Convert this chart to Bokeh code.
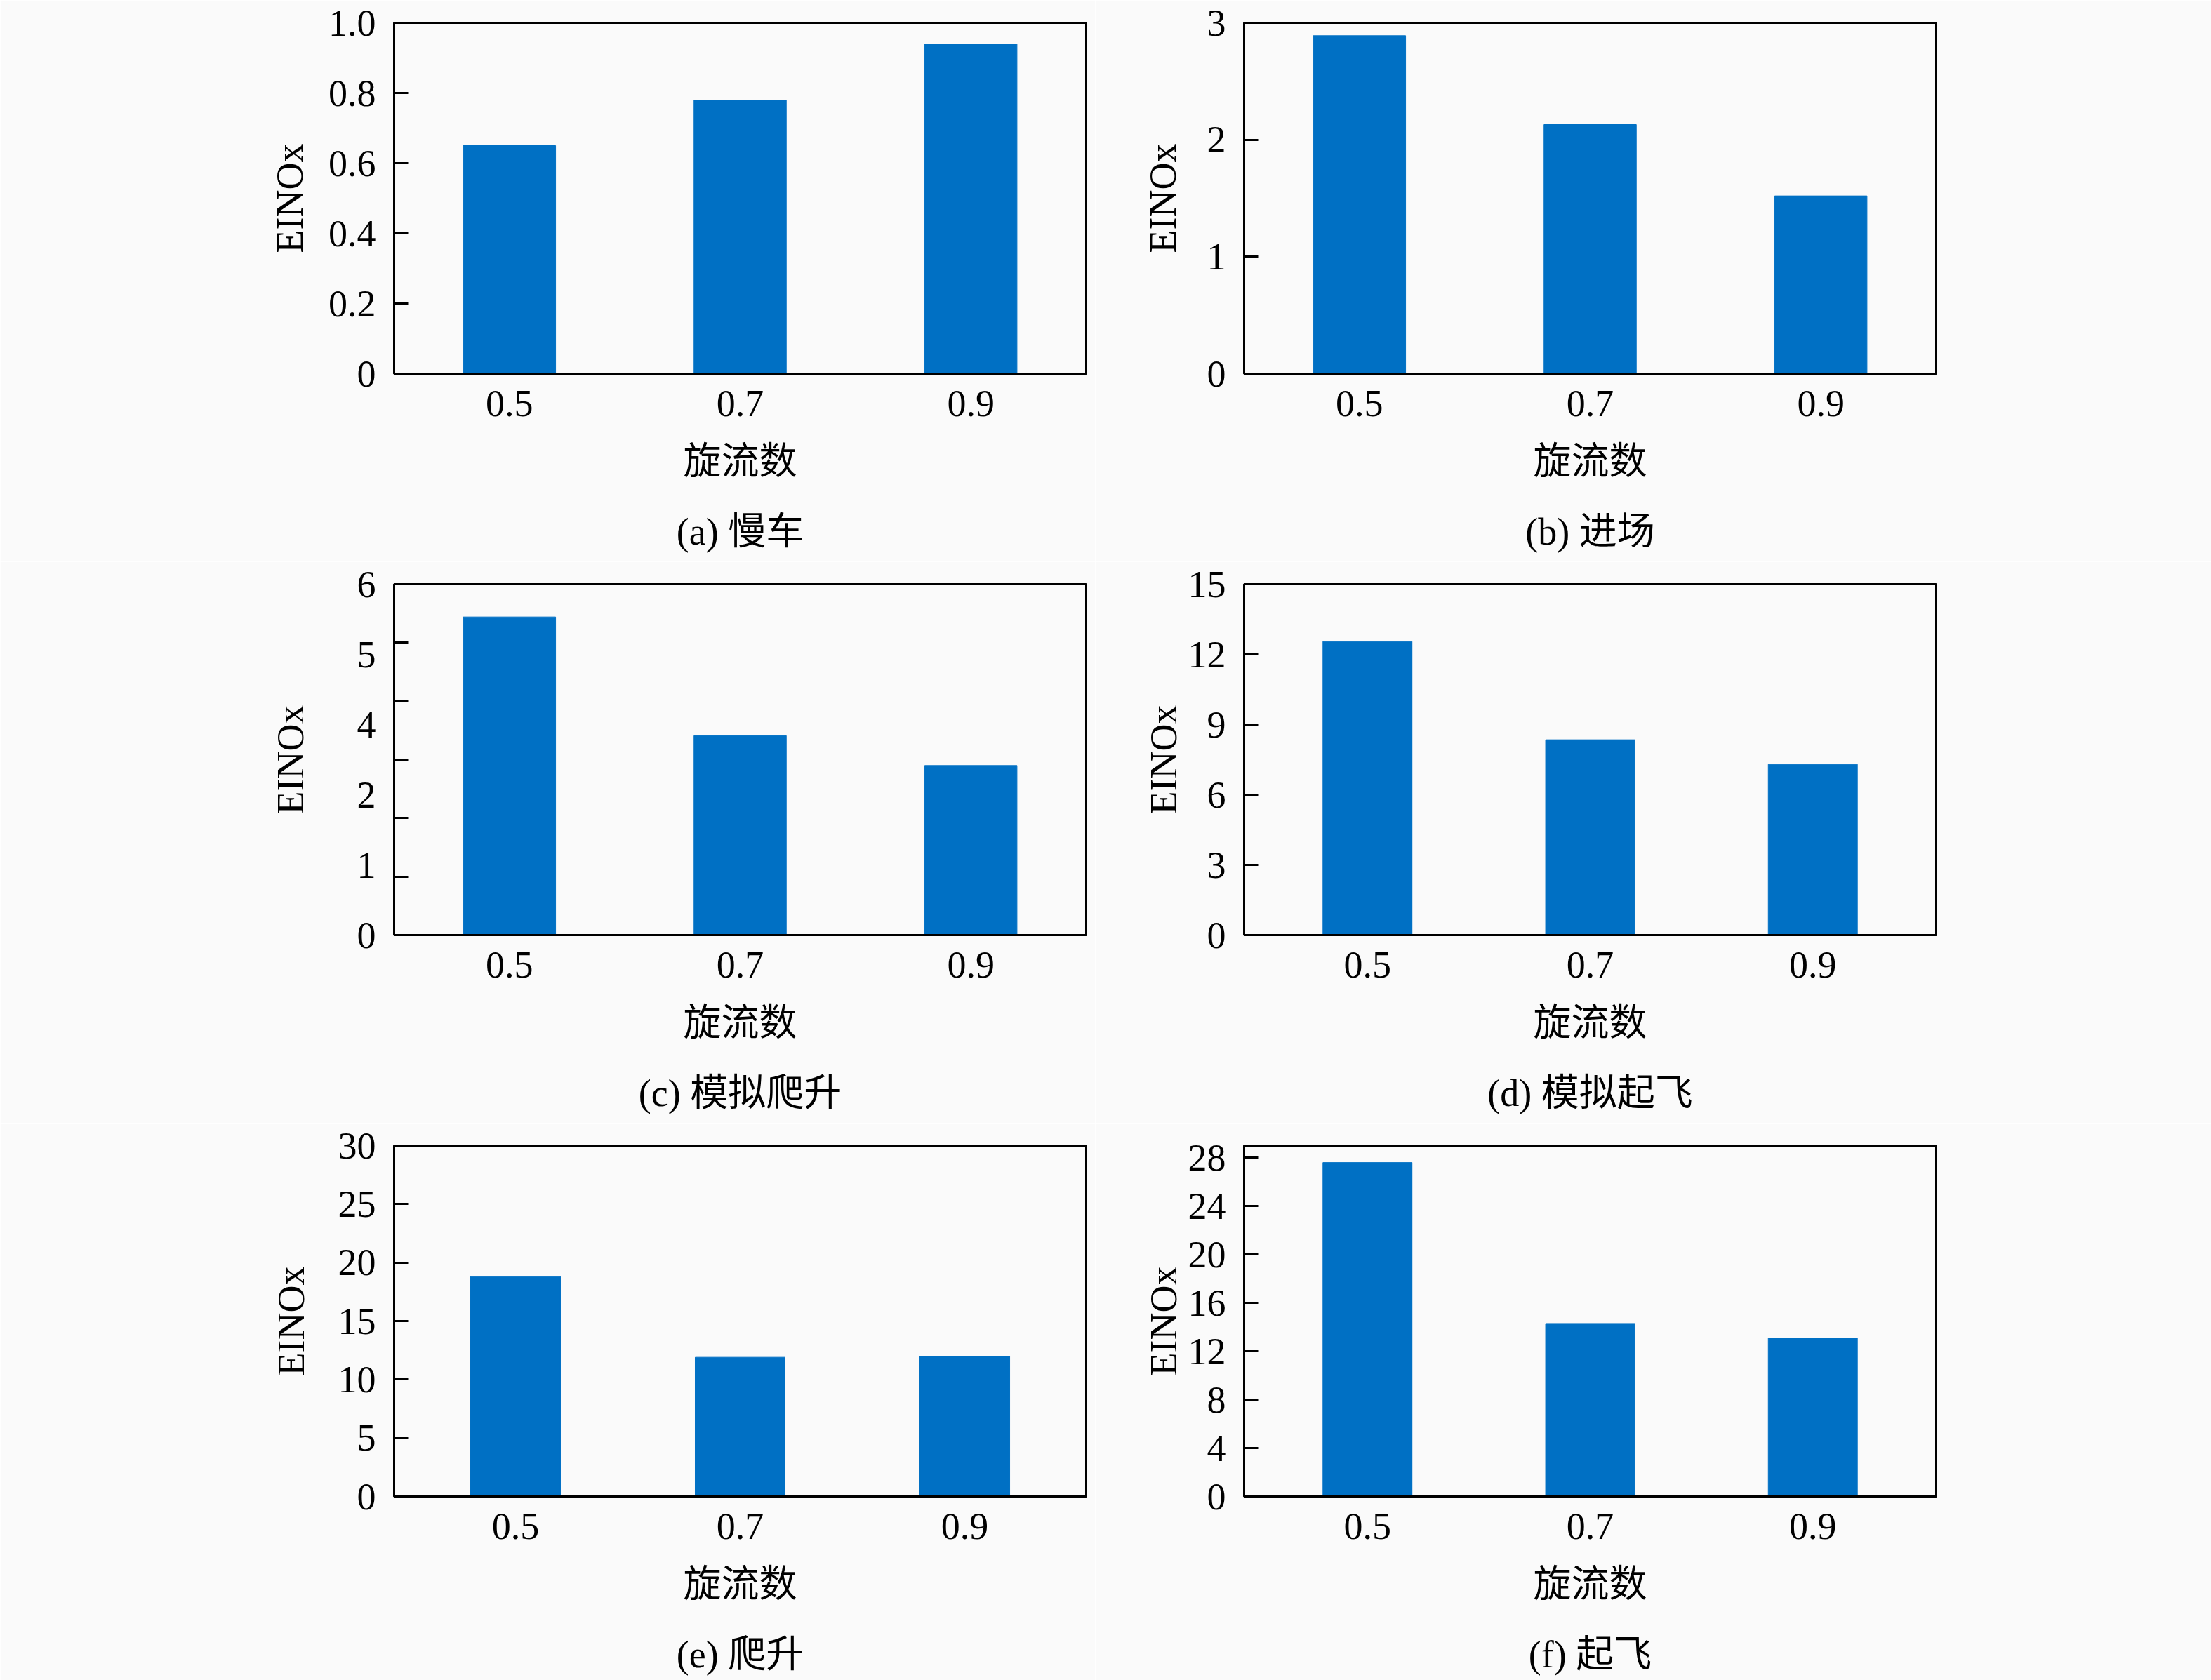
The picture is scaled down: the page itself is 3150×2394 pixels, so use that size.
from bokeh.plotting import figure
from bokeh.layouts import column, row
from bokeh.models import FactorRange, Range1d, FixedTicker, CategoricalAxis
from bokeh.embed import file_html
from bokeh.resources import INLINE

# ---------------- data ----------------
swirl = ["0.5", "0.7", "0.9"]

idle_vals = [0.65, 0.78, 0.94]          # (a) 慢车
approach_vals = [2.89, 2.13, 1.52]      # (b) 进场
sim_climb_vals = [5.44, 3.41, 2.90]     # (c) 模拟爬升
sim_takeoff_vals = [12.55, 8.35, 7.30]  # (d) 模拟起飞
climb_vals = [18.8, 11.9, 12.0]         # (e) 爬升
takeoff_vals = [27.6, 14.3, 13.1]       # (f) 起飞

captions = ["(a) 慢车", "(b) 进场", "(c) 模拟爬升", "(d) 模拟起飞", "(e) 爬升", "(f) 起飞"]
x_title = "旋流数"
y_title = "EINOx"

y_max = [1.0, 3, 6, 15, 30, 29]

ticks_a = [0, 0.2, 0.4, 0.6, 0.8, 1.0]
labels_a = ["0", "0.2", "0.4", "0.6", "0.8", "1.0"]
ticks_b = [0, 1, 2, 3]
labels_b = ["0", "1", "2", "3"]
# panel (c): labels in the original are spread evenly and skip "3"
ticks_c = [0, 1.2, 2.4, 3.6, 4.8, 6]
labels_c = ["0", "1", "2", "4", "5", "6"]
minor_c = [1, 2, 3, 4, 5]
ticks_d = [0, 3, 6, 9, 12, 15]
labels_d = ["0", "3", "6", "9", "12", "15"]
ticks_e = [0, 5, 10, 15, 20, 25, 30]
labels_e = ["0", "5", "10", "15", "20", "25", "30"]
ticks_f = [0, 4, 8, 12, 16, 20, 24, 28]
labels_f = ["0", "4", "8", "12", "16", "20", "24", "28"]

# ---------------- style ----------------
BAR = "#0070c4"
BG = "#fafafa"
FONT = "Liberation Serif, Noto Sans CJK SC"
FS = "54px"
TOP = 32
FRAME_W = 986
FRAME_H = 500
CAP_STANDOFF = 37


def style_text(a):
    a.major_label_text_font = FONT
    a.major_label_text_font_size = FS
    a.major_label_text_color = "black"
    a.axis_label_text_font = FONT
    a.axis_label_text_font_size = FS
    a.axis_label_text_font_style = "normal"
    a.axis_label_text_color = "black"


def panel(vals, caption, ymax, ticks, labels, minor, W, H, left_b, pad, ylab_off):
    p = figure(x_range=FactorRange(*swirl, range_padding=pad),
               y_range=Range1d(0, ymax),
               width=W, height=H, output_backend="svg", toolbar_location=None,
               min_border_left=left_b, min_border_right=W - left_b - FRAME_W,
               min_border_top=TOP, min_border_bottom=H - TOP - FRAME_H)
    p.vbar(x=swirl, top=vals, width=0.4, fill_color=BAR, line_color=BAR)
    p.background_fill_color = BG
    p.border_fill_color = BG
    p.outline_line_color = "black"
    p.outline_line_width = 3
    p.xgrid.visible = False
    p.ygrid.visible = False

    xa = p.xaxis[0]
    xa.axis_label = x_title
    xa.major_tick_in = 0
    xa.major_tick_out = 0
    xa.axis_line_width = 3
    xa.major_label_standoff = 24
    xa.axis_label_standoff = 32
    style_text(xa)

    ya = p.yaxis[0]
    ya.axis_label = y_title
    if minor is None:
        ya.ticker = FixedTicker(ticks=ticks)
        ya.major_tick_in = 20
        ya.major_tick_out = 0
    else:
        ya.ticker = FixedTicker(ticks=ticks, minor_ticks=minor)
        ya.major_tick_in = 0
        ya.major_tick_out = 0
        ya.minor_tick_in = 20
        ya.minor_tick_out = 0
        ya.minor_tick_line_width = 3
        ya.minor_tick_line_color = "black"
    ya.major_label_overrides = {t: l for t, l in zip(ticks, labels)}
    ya.major_tick_line_width = 3
    ya.axis_line_width = 3
    ya.major_label_standoff = 26
    ya.axis_label_standoff = ylab_off
    style_text(ya)

    # sub-figure caption: label of a bare axis (no ticks) placed below the x axis
    cap = CategoricalAxis(ticker=FixedTicker(ticks=[]),
                          axis_label=caption, axis_line_color=None,
                          major_tick_line_color=None, minor_tick_line_color=None,
                          major_tick_in=0, major_tick_out=0,
                          major_label_standoff=0,
                          axis_label_standoff=CAP_STANDOFF)
    style_text(cap)
    p.add_layout(cap, "below")
    return p


LW, RW = 1560, 1590
LL, RL = 561, 212

pa = panel(idle_vals, captions[0], y_max[0], ticks_a, labels_a, None, LW, 800, LL, 0.0, 22)
pb = panel(approach_vals, captions[1], y_max[1], ticks_b, labels_b, None, RW, 800, RL, 0.0, 30)
pc = panel(sim_climb_vals, captions[2], y_max[2], ticks_c, labels_c, minor_c, LW, 800, LL, 0.0, 62)
pd = panel(sim_takeoff_vals, captions[3], y_max[3], ticks_d, labels_d, None, RW, 800, RL, 0.036, 2)
pe = panel(climb_vals, captions[4], y_max[4], ticks_e, labels_e, None, LW, 794, LL, 0.027, 34)
pf = panel(takeoff_vals, captions[5], y_max[5], ticks_f, labels_f, None, RW, 794, RL, 0.036, 2)

layout = column(row(pa, pb), row(pc, pd), row(pe, pf))

open("out.html", "w").write(file_html(layout, INLINE))
